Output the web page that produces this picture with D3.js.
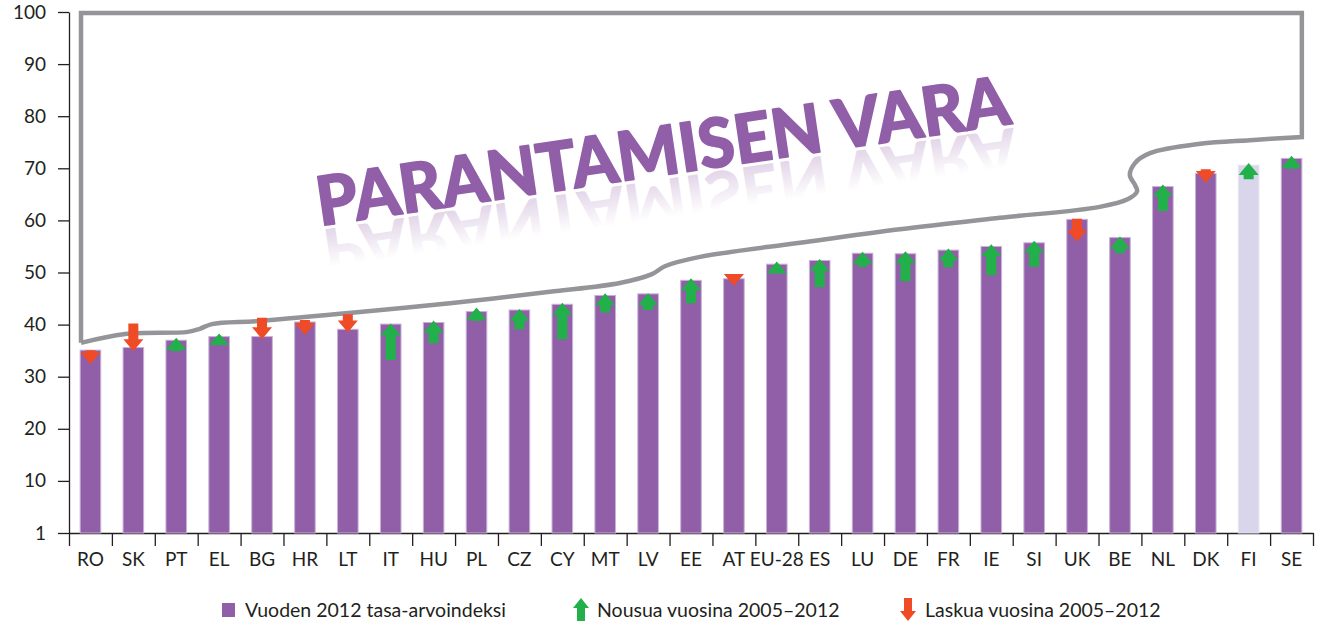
<!DOCTYPE html>
<html>
<head>
<meta charset="utf-8">
<script src="https://cdn.jsdelivr.net/npm/d3@7"></script>
<style>
  body { margin: 0; background: #fff; }
  text { font-family: Lato, 'Noto Sans', sans-serif; fill: #231f20; }
</style>
</head>
<body>
<div id="chart-area"></div>
<script>
// DATA
const categories = ['RO', 'SK', 'PT', 'EL', 'BG', 'HR', 'LT', 'IT', 'HU', 'PL', 'CZ', 'CY', 'MT', 'LV',
  'EE', 'AT', 'EU-28', 'ES', 'LU', 'DE', 'FR', 'IE', 'SI', 'UK', 'BE', 'NL', 'DK', 'FI', 'SE']
const index2012 = [35.1, 35.6, 37.0, 37.7, 37.7, 40.5, 39.1, 40.1, 40.4, 42.5, 42.8, 43.9, 45.6, 45.9,
  48.5, 48.8, 51.6, 52.3, 53.7, 53.6, 54.3, 55.0, 55.7, 60.2, 56.7, 66.5, 69.0, 70.6, 71.9]
// arrows: start and tip of each change arrow
const arrowFrom = [35.1, 40.2, 34.9, 36.1, 41.3, 40.9, 42.0, 33.2, 36.4, 40.7, 39.1, 37.2, 42.3, 42.8,
  44.1, 49.7, 49.8, 47.2, 51.1, 48.3, 51.0, 49.5, 51.1, 60.3, 53.7, 61.8, 69.8, 67.9, 69.9]
const arrowTo = [32.4, 34.9, 37.5, 38.3, 37.2, 38.0, 38.5, 40.2, 40.8, 43.3, 43.0, 44.2, 46.0, 46.0,
  48.9, 47.4, 52.1, 52.6, 54.0, 54.1, 54.6, 55.4, 56.1, 55.9, 56.9, 66.9, 67.2, 71.0, 72.4]
const highlighted = 'FI'
const yTicks = [0, 10, 20, 30, 40, 50, 60, 70, 80, 90, 100]
const yTickLabels = ['1', '10', '20', '30', '40', '50', '60', '70', '80', '90', '100']
// "room for improvement" outline, in [category position, index value]
const outlineBox = [[0.28, 36.5], [0.28, 99.8], [28.74, 99.8], [28.74, 76.0]]
const outlineCurve = [[28.74, 76.0], [27.53, 75.4], [26.37, 74.7], [25.2, 72.9], [24.85, 71.0],
  [24.73, 68.7], [24.85, 66.8], [24.9, 65.6], [24.69, 64.1], [24.03, 62.6], [21.7, 60.5],
  [19.37, 58.3], [17.04, 55.7], [14.71, 53.0], [13.89, 51.2], [13.59, 49.7], [12.84, 48.0],
  [11.21, 46.3], [8.88, 44.1], [6.78, 42.4], [4.45, 40.7], [3.33, 40.1], [3.05, 39.2],
  [2.77, 38.6], [1.31, 38.2], [0.28, 36.5]]
const titleText = 'PARANTAMISEN VARA'
const legendLabels = ['Vuoden 2012 tasa-arvoindeksi', 'Nousua vuosina 2005–2012', 'Laskua vuosina 2005–2012']

const PURPLE = '#915ea8'
const LAVENDER = '#d9d6eb'
const GREEN = '#22b04b'
const RED = '#ef4b26'
const GREY = '#939598'

const MARGIN = { LEFT: 69, RIGHT: 4, TOP: 12, BOTTOM: 89 }
const WIDTH = 1317 - MARGIN.LEFT - MARGIN.RIGHT
const HEIGHT = 622 - MARGIN.TOP - MARGIN.BOTTOM

const svg = d3.select('#chart-area').append('svg')
  .attr('width', 1317)
  .attr('height', 622)

const g = svg.append('g')
  .attr('transform', `translate(${MARGIN.LEFT}, ${MARGIN.TOP})`)

// SCALES
const x = d3.scaleBand()
  .domain(categories)
  .range([0, WIDTH])
  .paddingInner(0.52)
  .paddingOuter(0.26)
const xPos = d3.scaleLinear()
  .domain([0, categories.length])
  .range([0, WIDTH])
const y = d3.scaleLinear()
  .domain([0, 100])
  .range([HEIGHT, 0])

const data = categories.map((c, i) => ({
  cat: c, value: index2012[i], from: arrowFrom[i], to: arrowTo[i]
}))

// AXES
const yAxis = d3.axisLeft(y)
  .tickValues(yTicks)
  .tickFormat((d, i) => yTickLabels[i])
  .tickSize(11)
  .tickSizeOuter(0)
  .tickPadding(12)
g.append('g')
  .attr('class', 'y axis')
  .call(yAxis)
  .call(a => a.selectAll('text').attr('font-size', '19px').style('fill', '#231f20'))
  .call(a => a.selectAll('line, path').attr('stroke', '#231f20').attr('stroke-width', 1.3))

// boundary ticks between categories
g.append('g')
  .attr('class', 'x axis')
  .attr('transform', `translate(0, ${HEIGHT})`)
  .call(d3.axisBottom(xPos).tickValues(d3.range(categories.length + 1)).tickFormat('').tickSize(13).tickSizeOuter(0))
  .call(a => a.selectAll('line, path').attr('stroke', '#231f20').attr('stroke-width', 1.3))

// category labels
g.append('g')
  .attr('class', 'x labels')
  .attr('transform', `translate(0, ${HEIGHT})`)
  .call(d3.axisBottom(x).tickSize(0).tickPadding(20))
  .call(a => a.select('.domain').remove())
  .call(a => a.selectAll('text').attr('font-size', '19px').style('fill', '#231f20'))

// TITLE with reflection
const titleG = svg.append('g')
  .attr('transform', 'translate(320, 226) rotate(-8.4)')
const defs = svg.append('defs')
const grad = defs.append('linearGradient')
  .attr('id', 'reflect')
  .attr('x1', 0).attr('y1', 1).attr('x2', 0).attr('y2', 0)
grad.append('stop').attr('offset', 0).attr('stop-color', PURPLE).attr('stop-opacity', 0.35)
grad.append('stop').attr('offset', 0.65).attr('stop-color', PURPLE).attr('stop-opacity', 0)
titleG.append('text')
  .attr('transform', 'translate(0, 4) scale(1, -1)')
  .attr('font-family', "Lato, 'Open Sans', sans-serif")
  .attr('font-weight', 900)
  .attr('font-size', '68px')
  .attr('textLength', 700)
  .attr('lengthAdjust', 'spacingAndGlyphs')
  .style('fill', 'url(#reflect)')
  .text(titleText)
titleG.append('text')
  .attr('font-family', "Lato, 'Open Sans', sans-serif")
  .attr('font-weight', 900)
  .attr('font-size', '68px')
  .attr('textLength', 700)
  .attr('lengthAdjust', 'spacingAndGlyphs')
  .style('fill', PURPLE)
  .attr('stroke', PURPLE)
  .attr('stroke-width', 1.6)
  .attr('stroke-linejoin', 'round')
  .text(titleText)

// BARS
g.selectAll('rect.bar')
  .data(data)
  .enter().append('rect')
  .attr('class', 'bar')
  .attr('x', d => x(d.cat))
  .attr('y', d => y(d.value))
  .attr('width', x.bandwidth())
  .attr('height', d => HEIGHT - y(d.value))
  .attr('fill', d => d.cat === highlighted ? LAVENDER : PURPLE)
  .attr('stroke', d => d.cat === highlighted ? '#e6e3f2' : '#c8b2d6')
  .attr('stroke-width', 1)

// OUTLINE
const lineBox = d3.line().x(d => xPos(d[0])).y(d => y(d[1]))
const lineCurve = d3.line().x(d => xPos(d[0])).y(d => y(d[1])).curve(d3.curveCatmullRom.alpha(0.5))
g.append('path')
  .attr('d', lineBox(outlineBox) + lineCurve(outlineCurve).replace(/^M/, 'L'))
  .attr('fill', 'none')
  .attr('stroke', GREY)
  .attr('stroke-width', 4.5)
  .attr('stroke-linejoin', 'miter')

// ARROWS
function arrowPath (cx, y0, y1, headW, shaftW, headH) {
  const dir = y1 > y0 ? 1 : -1
  const h = Math.min(headH, Math.abs(y1 - y0))
  const neck = y1 - dir * h
  return `M${cx - shaftW / 2},${y0}L${cx - shaftW / 2},${neck}L${cx - headW / 2},${neck}` +
    `L${cx},${y1}L${cx + headW / 2},${neck}L${cx + shaftW / 2},${neck}L${cx + shaftW / 2},${y0}Z`
}
g.selectAll('path.arrow')
  .data(data)
  .enter().append('path')
  .attr('class', 'arrow')
  .attr('d', d => arrowPath(x(d.cat) + x.bandwidth() / 2, y(d.from), y(d.to), 20, 10, 12))
  .attr('fill', d => d.to > d.from ? GREEN : RED)

// LEGEND
const legend = svg.append('g').attr('transform', 'translate(0, 610)')
legend.append('rect')
  .attr('x', 222).attr('y', -7).attr('width', 13).attr('height', 14)
  .attr('fill', PURPLE)
legend.append('path')
  .attr('d', arrowPath(581, 11, -12, 16, 8, 10))
  .attr('fill', GREEN)
legend.append('path')
  .attr('d', arrowPath(908, -12, 11, 16, 8, 10))
  .attr('fill', RED)
const legendX = [245, 597, 925]
legend.selectAll('text.leg')
  .data(legendLabels)
  .enter().append('text')
  .attr('class', 'leg')
  .attr('x', (d, i) => legendX[i])
  .attr('y', 0)
  .attr('dy', '0.35em')
  .attr('font-size', '19.5px')
  .text(d => d)
</script>
</body>
</html>
